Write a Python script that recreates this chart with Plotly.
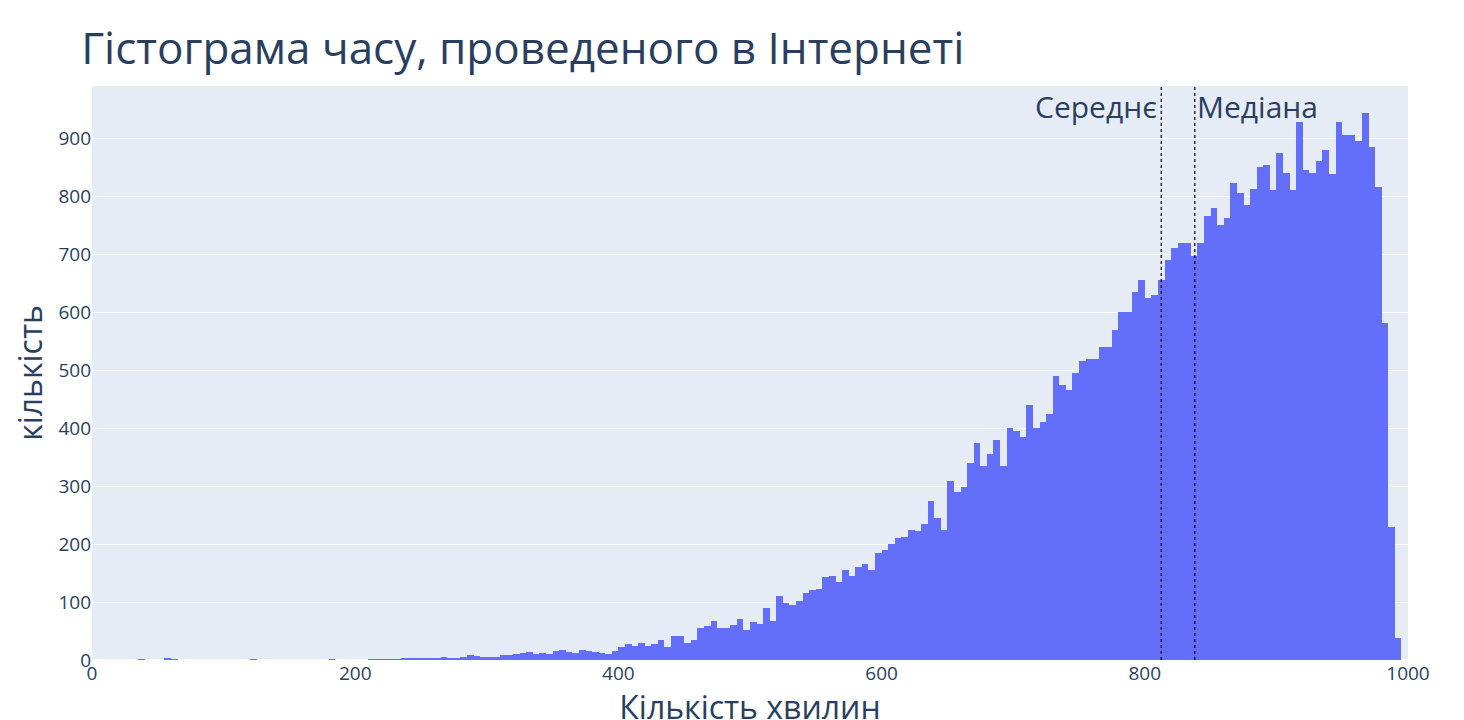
import plotly.graph_objects as go

bin_starts = list(range(0, 1000, 5))
counts = (
    [0, 0, 0, 0, 0, 0, 0, 1, 0, 0, 0, 2, 1, 0, 0, 0, 0, 0, 0, 0,
     0, 0, 0, 0, 1, 0, 0, 0, 0, 0, 0, 0, 0, 0, 0, 0, 1, 0, 0, 0]
    + [0, 0, 1, 1, 1, 1, 1, 2, 3, 2, 4, 3, 2, 5, 4, 4, 6, 8, 7, 5]
    + [5, 6, 9, 8, 10, 12, 14, 11, 12, 10, 15, 18, 14, 12, 18, 16, 14, 12, 11, 15]
    + [22, 28, 25, 30, 24, 28, 35, 22, 42, 42, 30, 35, 55, 58, 68, 55, 56, 60, 70, 52]
    + [65, 62, 90, 68, 110, 98, 95, 102, 115, 120, 122, 143, 145, 135, 155, 145, 160, 165, 155, 185]
    + [190, 200, 210, 212, 225, 222, 235, 275, 245, 225, 308, 290, 298, 340, 375, 335, 355, 380, 335, 400]
    + [395, 385, 440, 400, 410, 425, 490, 475, 465, 495, 515, 520, 520, 540, 540, 570, 600, 600, 635, 655]
    + [625, 630, 655, 690, 710, 720, 720, 697, 720, 765, 780, 750, 762, 822, 805, 785, 812, 850, 853, 810]
    + [875, 840, 810, 928, 845, 840, 860, 880, 838, 928, 905, 905, 895, 943, 885, 815, 582, 230, 38, 0]
)
mean_val = 812.5
median_val = 838

centers = [s + 2.5 for s in bin_starts]

fig = go.Figure(go.Bar(
    x=centers, y=counts, width=5,
    marker=dict(color="#636efa", line=dict(color="#636efa", width=0)),
))
fig.add_vline(x=mean_val, line=dict(color="black", dash="dot", width=1.2))
fig.add_vline(x=median_val, line=dict(color="black", dash="dot", width=1.2))
fig.add_annotation(x=mean_val, y=1, xref="x", yref="paper", text="Середнє",
                   showarrow=False, xanchor="right", yanchor="top",
                   font=dict(size=30, color="#2a3f5f"), xshift=-2, yshift=2)
fig.add_annotation(x=median_val, y=1, xref="x", yref="paper", text="Медіана",
                   showarrow=False, xanchor="left", yanchor="top",
                   font=dict(size=30, color="#2a3f5f"), xshift=0, yshift=2)

fig.update_layout(
    template="plotly",
    width=1464, height=720,
    margin=dict(l=84, r=64, t=78, b=68, autoexpand=False),
    title=dict(text="Гістограма часу, проведеного в Інтернеті", x=0.05, xanchor="left",
               y=0.965, font=dict(size=44, color="#2a3f5f")),
    bargap=0,
    showlegend=False,
    font=dict(family="Open Sans, sans-serif", size=19, color="#2a3f5f"),
    xaxis=dict(title=dict(text="Кількість хвилин", font=dict(size=32), standoff=6),
               range=[0, 1000], dtick=200, automargin=False),
    yaxis=dict(title=dict(text="кількість", font=dict(size=32), standoff=10),
               range=[0, 990], dtick=100, automargin=False),
)
fig.write_html("out.html")
